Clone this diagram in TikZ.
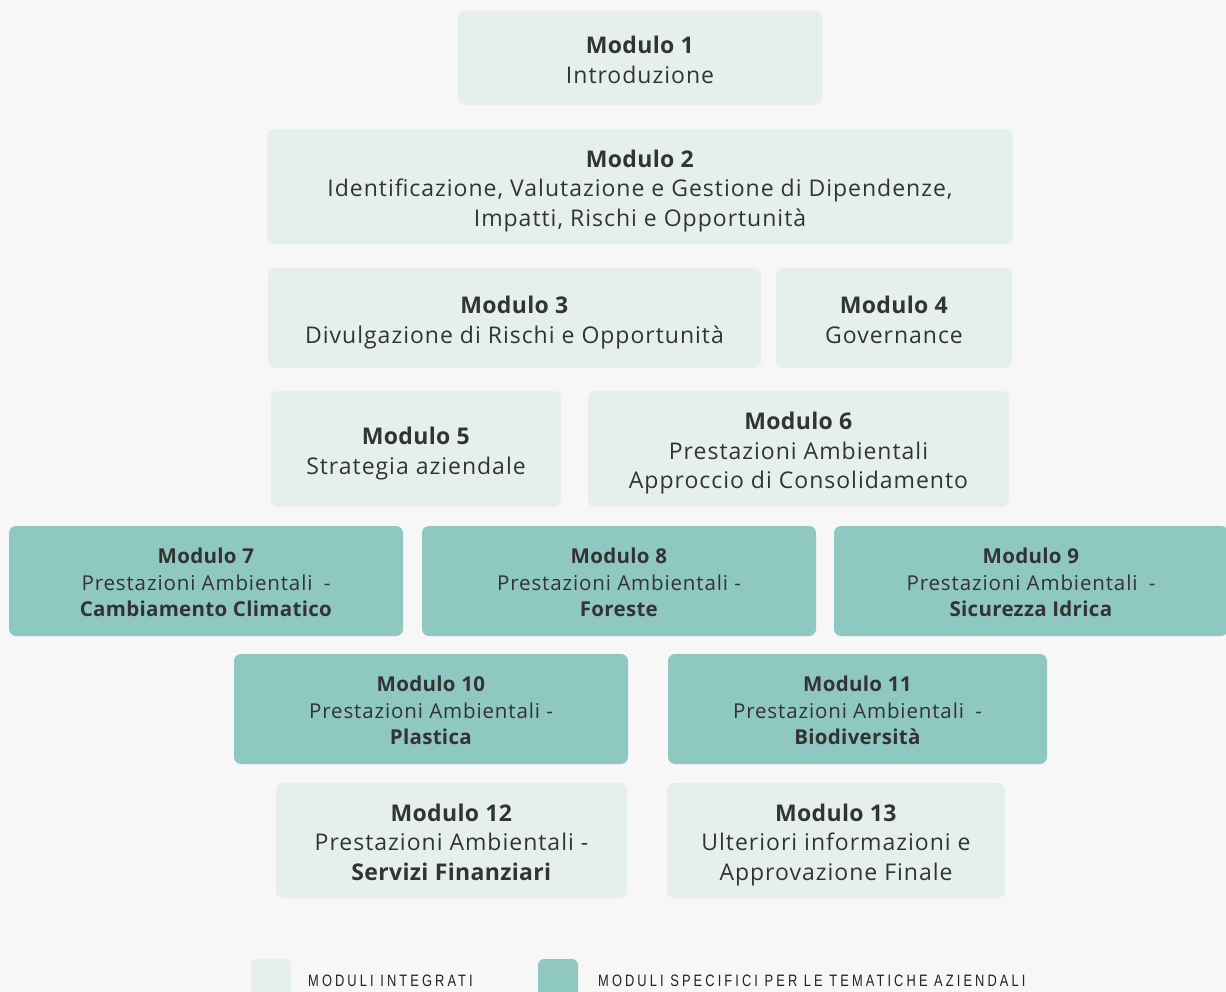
\documentclass[tikz,border=0pt]{standalone}
\usepackage{graphicx}
\usepackage{fontspec}
\setmainfont{Open Sans}
\newfontfamily\bodyfont[LetterSpace=4.3, BoldFeatures={LetterSpace=1.5}]{Open Sans}
\newfontfamily\legendfont[LetterSpace=24]{Liberation Sans}
\definecolor{pagebg}{HTML}{F7F7F7}
\definecolor{intbox}{HTML}{E5F0EE}
\definecolor{specbox}{HTML}{8FC8C0}
\definecolor{inktext}{HTML}{333333}
\definecolor{legendink}{HTML}{222222}
\tikzset{
  boxshape/.style={draw=none, rounded corners=7pt, inner sep=0pt},
  integ/.style={boxshape, fill=intbox},
  spec/.style={boxshape, fill=specbox},
  integtext/.style={align=center, text=inktext, inner sep=0pt, yshift=-4.5pt,
    font=\bodyfont\fontsize{23}{29.5}\selectfont},
  spectext/.style={align=center, text=inktext, inner sep=0pt, yshift=-4pt,
    font=\bodyfont\fontsize{20.5}{26.5}\selectfont},
  legendkey/.style={fill=#1, rounded corners=6pt},
  legendtxt/.style={anchor=west, text=legendink, inner sep=0pt, font=\legendfont\fontsize{16.5}{18}\selectfont}
}
% module box from its corners, with its caption centred inside
\newcommand{\modnode}[7]{%
  \node[#1, minimum width={#4-#2}, minimum height={#5-#3}] (#6) at ({(#2+#4)/2},{(#3+#5)/2}) {};
  \node[#1text] (#6-text) at (#6.center) {\strut #7\strut};}
\newcommand{\legendlabel}[1]{\scalebox{0.78}[1]{#1}}
\begin{document}
\begin{tikzpicture}[x=1pt,y=-1pt]
\useasboundingbox (0,0) rectangle (1226,992);
\clip (0,0) rectangle (1226,992);
\fill[pagebg] (0,0) rectangle (1226,992);

\modnode{integ}{458}{11}{822}{105}{m1}{\textbf{Modulo 1}\\Introduzione}
\modnode{integ}{267}{129}{1013}{244}{m2}{\textbf{Modulo 2}\\Identificazione, Valutazione e Gestione di Dipendenze,\\Impatti, Rischi e Opportunità}
\modnode{integ}{268}{268}{761}{368}{m3}{\textbf{Modulo 3}\\Divulgazione di Rischi e Opportunità}
\modnode{integ}{776}{268}{1012}{368}{m4}{\textbf{Modulo 4}\\Governance}
\modnode{integ}{271}{391}{561}{507}{m5}{\textbf{Modulo 5}\\Strategia aziendale}
\modnode{integ}{588}{391}{1009}{507}{m6}{\textbf{Modulo 6}\\Prestazioni Ambientali\\Approccio di Consolidamento}

\modnode{spec}{9}{526}{403}{636}{m7}{\textbf{Modulo 7}\\Prestazioni Ambientali\ \hspace{0.25em}-\\\textbf{Cambiamento Climatico}}
\modnode{spec}{422}{526}{816}{636}{m8}{\textbf{Modulo 8}\\Prestazioni Ambientali -\\\textbf{Foreste}}
\modnode{spec}{834}{526}{1228}{636}{m9}{\textbf{Modulo 9}\\Prestazioni Ambientali\ \hspace{0.25em}-\\\textbf{Sicurezza Idrica}}
\modnode{spec}{234}{654}{628}{764}{m10}{\textbf{Modulo 10}\\Prestazioni Ambientali -\\\textbf{Plastica}}
\modnode{spec}{668}{654}{1047}{764}{m11}{\textbf{Modulo 11}\\Prestazioni Ambientali\ \hspace{0.25em}-\\\textbf{Biodiversità}}

\modnode{integ}{276}{783}{627}{898}{m12}{\textbf{Modulo 12}\\Prestazioni Ambientali -\\\textbf{Servizi Finanziari}}
\modnode{integ}{667}{783}{1005}{898}{m13}{\textbf{Modulo 13}\\Ulteriori informazioni e\\Approvazione Finale}

% legend
\fill[legendkey=intbox] (251,959) rectangle (291,1004);
\fill[legendkey=specbox] (538,959) rectangle (578,1004);
\node[legendtxt] (lg1) at (308,981) {\legendlabel{MODULI INTEGRATI}};
\node[legendtxt] (lg2) at (598,981) {\legendlabel{MODULI SPECIFICI PER LE TEMATICHE AZIENDALI}};
\end{tikzpicture}
\end{document}
